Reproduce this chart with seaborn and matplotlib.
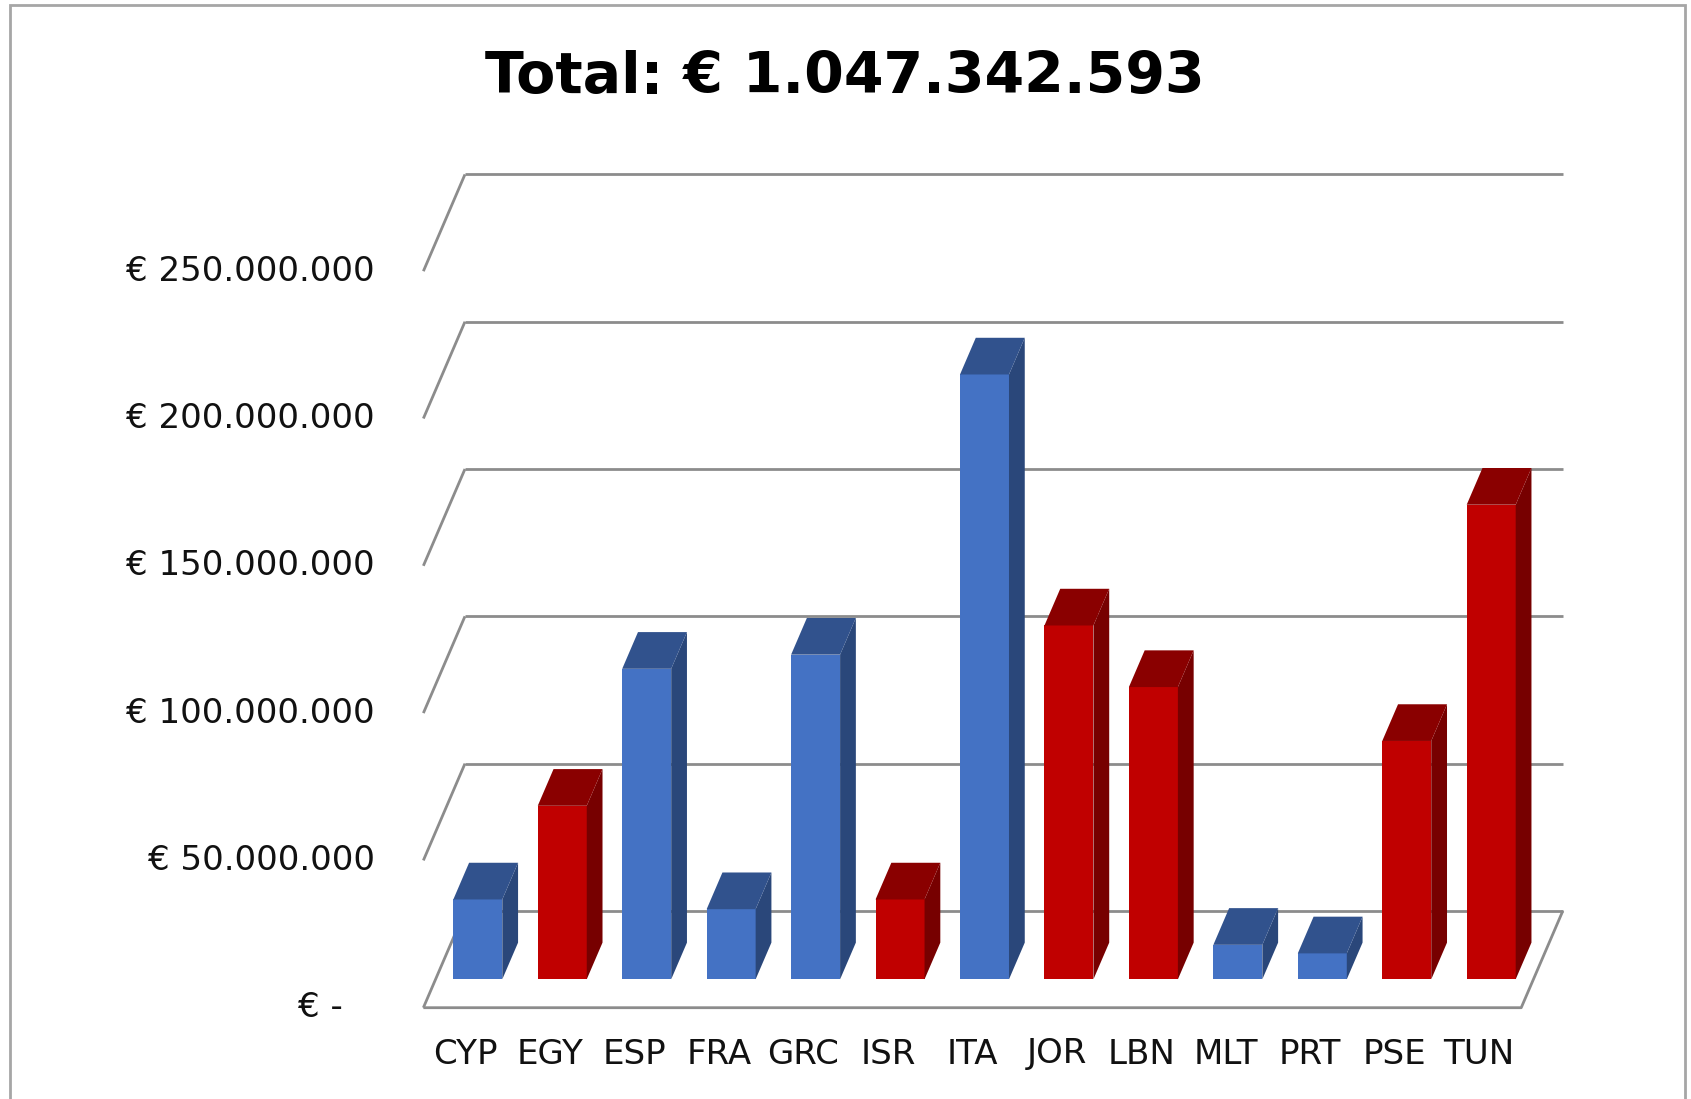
###
# 3D-style bar chart of amounts per country (Excel look-alike)
###

import matplotlib
matplotlib.use("Agg")
import matplotlib.pyplot as plt
from matplotlib.patches import Polygon, Rectangle
import matplotlib.colors as mcolors
import seaborn as sns
import pandas as pd

# Data (values in millions of euro)
countries = ["CYP", "EGY", "ESP", "FRA", "GRC", "ISR", "ITA", "JOR", "LBN", "MLT", "PRT", "PSE", "TUN"]
amounts_m = [27.1, 58.9, 105.4, 23.8, 110.2, 27.1, 205.3, 120.1, 99.2, 11.7, 8.8, 80.9, 161.1]
groups = ["EU", "MPC", "EU", "EU", "EU", "MPC", "EU", "MPC", "MPC", "EU", "EU", "MPC", "MPC"]
tick_values_m = [0, 50, 100, 150, 200, 250]
tick_labels = ["€ -   ", "€ 50.000.000", "€ 100.000.000", "€ 150.000.000", "€ 200.000.000", "€ 250.000.000"]
title = "Total: € 1.047.342.593"
palette = {"EU": "#4472C4", "MPC": "#C00000"}

df = pd.DataFrame({"country": countries, "amount": amounts_m, "group": groups})

# Layout in figure pixels
W, H = 1691, 1099
X0, DX = 477.8, 84.45          # first bar centre, pixels per category
Y0, PX_PER_M = 979.3, 147.3 / 50  # bar base, pixels per million
SLOPE = 41.6 / 96.8            # depth direction (x per y)
FRONT_GAP, BAR_DEPTH, FULL_DEPTH = 28.4, 36.7, 96.8


def depth(py):
    # depth offset of py pixels (upwards) in data units
    return py * SLOPE / DX, py / PX_PER_M


def to_data(px, py):
    return (px - X0) / DX, (Y0 - py) / PX_PER_M


fdx, fdy = depth(-FRONT_GAP)
bdx, bdy = depth(FULL_DEPTH - FRONT_GAP)
ddx, ddy = depth(BAR_DEPTH)

sns.set_style("white")
fig = plt.figure(figsize=(W / 100, H / 100), dpi=100)
ax = fig.add_axes([0, 0, 1, 1])

# Bars (front faces)
sns.barplot(data=df, x="country", y="amount", hue="group", palette=palette,
            dodge=False, width=0.58, saturation=1, linewidth=0, legend=False,
            ax=ax, zorder=3)

# Walls and floor
grid_kw = dict(color="#8C8C8C", lw=2, zorder=1, solid_capstyle="butt")
left, right = -0.5, len(countries) - 0.5
for v in tick_values_m:
    ax.plot([left + bdx, right + bdx], [v + bdy, v + bdy], **grid_kw)
    ax.plot([left + fdx, left + bdx], [v + fdy, v + bdy], **grid_kw)
ax.plot([left + fdx, right + fdx, right + bdx], [fdy, fdy, bdy], **grid_kw)

# Side and top faces of the bars
for p in list(ax.patches):
    x0, w, h = p.get_x(), p.get_width(), p.get_height()
    rgb = mcolors.to_rgb(p.get_facecolor())
    top_c = tuple(c * 0.72 for c in rgb)
    side_c = tuple(c * 0.62 for c in rgb)
    x1 = x0 + w
    side = [(x1, 0), (x1 + ddx, ddy), (x1 + ddx, h + ddy), (x1, h)]
    top = [(x0, h), (x1, h), (x1 + ddx, h + ddy), (x0 + ddx, h + ddy)]
    ax.add_patch(Polygon(side, closed=True, facecolor=side_c, edgecolor="none", zorder=3))
    ax.add_patch(Polygon(top, closed=True, facecolor=top_c, edgecolor="none", zorder=3))

# Axis labels
label_x, _ = to_data(375, 0)
for v, lab in zip(tick_values_m, tick_labels):
    ax.text(label_x, v + fdy, lab, ha="right", va="center", fontsize=24.5,
            family="DejaVu Sans", color="#111111")
_, cat_y = to_data(0, 1054)
for i, c in enumerate(countries):
    ax.text(i + fdx, cat_y, c, ha="center", va="center", fontsize=24.5,
            family="DejaVu Sans", color="#111111")

ax.set_xlim(to_data(0, 0)[0], to_data(W, 0)[0])
ax.set_ylim(to_data(0, H)[1], to_data(0, 0)[1])
ax.axis("off")

fig.text(845 / W, 1 - 93 / H, title, ha="center", va="baseline", fontsize=41,
         fontweight="bold", family="DejaVu Sans", color="black")

# Chart border
fig.add_artist(Rectangle((10 / W, -0.05), 1675 / W, 1 - 5 / H + 0.05,
                         transform=fig.transFigure, fill=False,
                         edgecolor="#A6A6A6", lw=2))

plt.savefig("out.png", dpi=100)
plt.close()
